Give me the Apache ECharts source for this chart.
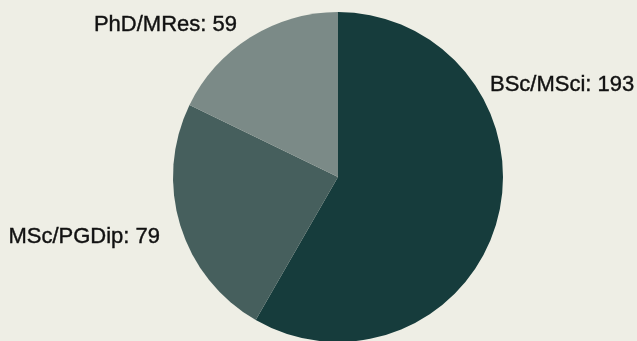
<!DOCTYPE html>
<html>
<head>
<meta charset="utf-8">
<script src="https://cdn.jsdelivr.net/npm/echarts@6/dist/echarts.min.js"></script>
<style>
  html, body { margin: 0; padding: 0; background: #eeeee5; }
  #chart { width: 637px; height: 341px; }
</style>
</head>
<body>
<div id="chart"></div>
<script>
// degree levels and counts
const categories = ['BSc/MSci', 'MSc/PGDip', 'PhD/MRes']
const counts = [193, 79, 59]
const colors = ['#163c3c', '#465f5d', '#7b8a87']

// where each label sits (x, y, align)
const labelSpots = [
  { x: 490, y: 85, align: 'left' },
  { x: 160, y: 237, align: 'right' },
  { x: 237, y: 25, align: 'right' }
]

const chart = echarts.init(document.getElementById('chart'))

chart.setOption({
  backgroundColor: '#eeeee5',
  animation: false,
  series: [
    {
      type: 'pie',
      center: [338, 177],
      radius: 165,
      startAngle: 90,
      clockwise: true,
      data: categories.map((name, i) => ({
        name,
        value: counts[i],
        itemStyle: { color: colors[i] }
      })),
      label: {
        show: true,
        position: 'outside',
        formatter: '{b}: {c}',
        color: '#111111',
        fontFamily: 'Liberation Sans, Arial, sans-serif',
        fontSize: 22,
        textBorderColor: '#111111',
        textBorderWidth: 0.4,
        overflow: 'none'
      },
      labelLine: { show: false },
      labelLayout: (params) => {
        const spot = labelSpots[params.dataIndex]
        return { x: spot.x, y: spot.y, align: spot.align, verticalAlign: 'middle' }
      },
      emphasis: { disabled: true }
    }
  ]
})
</script>
</body>
</html>
